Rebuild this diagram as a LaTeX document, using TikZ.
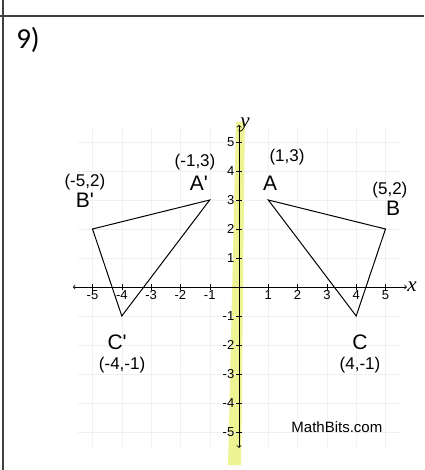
\documentclass[tikz,border=0pt]{standalone}
\usepackage{fontspec}
\setmainfont{Liberation Sans}
\newfontfamily\numfont{Carlito}
\newfontfamily\axisfont{Liberation Serif}
\newcommand{\pr}{\textquotesingle}
\tikzset{
    ptlabel/.style={font=\fontsize{17}{17}\selectfont, inner sep=0pt},
    letter/.style={font=\fontsize{21}{21}\selectfont, inner sep=0pt},
    ticklabel/.style={font=\fontsize{13}{13}\selectfont, inner sep=1pt},
    axislabel/.style={font=\axisfont\itshape\fontsize{21}{21}\selectfont, inner sep=1pt},
}
\definecolor{marker}{RGB}{234,240,120}
\begin{document}
\begin{tikzpicture}[x=29.3pt, y=29pt, >=to]
    \useasboundingbox (-239pt,-183pt) rectangle (185pt,287pt);

    % frame of the worksheet cell
    \draw[line width=1.6pt, black!75] (-239pt,271pt) -- (185pt,271pt);
    \draw[line width=1.6pt, black!75] (-236pt,287pt) -- (-236pt,-183pt);
    \node[font=\numfont\fontsize{29}{29}\selectfont, inner sep=0pt] (num) at (-211pt,247pt) {9)};

    % highlighter over the y-axis
    \fill[marker, opacity=0.8] (-0.1,5.69) -- (0.2,5.69) -- (0.07,-6.14) -- (-0.375,-6.14) -- cycle;

    \draw[black!6, step=1] (-5.5,-5.5) grid (5.5,5.5);

    \draw[<->, thick] (-5.67,0) -- (5.73,0) node[axislabel, right, inner sep=0pt] {x};
    \draw[<->, thick] (0,-5.55) -- (0,5.59) node[axislabel, right, inner sep=1pt] {y};

    \foreach \k in {1,...,5} {
        \draw (\k,-0.1) -- (\k,0.1);
        \draw (-\k,-0.1) -- (-\k,0.1);
        \draw (-0.1,\k) -- (0.1,\k);
        \draw (-0.1,-\k) -- (0.1,-\k);
        \node[ticklabel, below] at (\k,-0.08) {\k};
        \node[ticklabel, below] at (-\k,-0.08) {-\k};
        \node[ticklabel, left] at (-0.12,\k) {\k};
        \node[ticklabel, left] at (-0.12,-\k) {-\k};
    }

    \coordinate (A) at (1,3);
    \coordinate (B) at (5,2);
    \coordinate (C) at (4,-1);
    \coordinate (A') at (-1,3);
    \coordinate (B') at (-5,2);
    \coordinate (C') at (-4,-1);

    \draw[line width=1pt] (A) -- (B) -- (C) -- cycle;
    \draw[line width=1pt] (A') -- (B') -- (C') -- cycle;

    \node[letter] (lA) at (1.06,3.59) {A};
    \node[ptlabel] (cA) at (1.64,4.48) {(1,3)};
    \node[letter] (lB) at (5.26,2.72) {B};
    \node[ptlabel] (cB) at (5.15,3.34) {(5,2)};
    \node[letter] (lC) at (4.13,-1.9) {C};
    \node[ptlabel] (cC) at (4.13,-2.69) {(4,-1)};

    \node[letter] (lA') at (-1.37,3.59) {A\pr};
    \node[ptlabel] (cA') at (-1.5,4.31) {(-1,3)};
    \node[letter] (lB') at (-5.26,3.0) {B\pr};
    \node[ptlabel] (cB') at (-5.26,3.62) {(-5,2)};
    \node[letter] (lC') at (-4.16,-1.9) {C\pr};
    \node[ptlabel] (cC') at (-3.99,-2.69) {(-4,-1)};

    \node[font=\fontsize{15}{15}\selectfont] (site) at (3.34,-4.83) {MathBits.com};
\end{tikzpicture}
\end{document}
